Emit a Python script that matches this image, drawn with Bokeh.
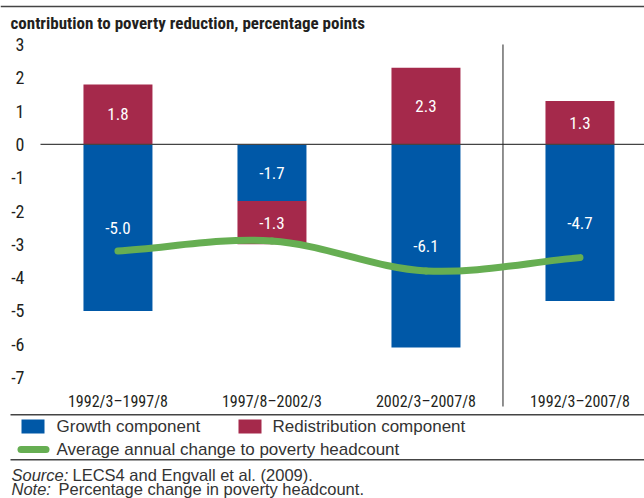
import numpy as np
from bokeh.plotting import figure
from bokeh.models import Range1d, Label
from bokeh.embed import file_html
from bokeh.resources import INLINE
from bokeh.core.properties import value

# ---------------- data ----------------
periods = ["1992/3–1997/8", "1997/8–2002/3", "2002/3–2007/8", "1992/3–2007/8"]
growth = [-5.0, -1.7, -6.1, -4.7]
redistribution = [1.8, -1.3, 2.3, 1.3]
avg_change = [-3.2, -2.9, -3.8, -3.4]
y_ticks = [3, 2, 1, 0, -1, -2, -3, -4, -5, -6, -7]

title_text = "contribution to poverty reduction, percentage points"
legend_labels = ["Growth component", "Redistribution component",
                 "Average annual change to poverty headcount"]
source_label, source_text = "Source:", "LECS4 and Engvall et al. (2009)."
note_label, note_text = "Note:", "Percentage change in poverty headcount."

# ---------------- style / layout ----------------
BLUE = "#0058a7"
RED = "#a5294b"
GREEN = "#66ae52"
TEXT = "#231f20"
GREY_TEXT = "#333333"
RULE = "#444444"
NARROW = "'Liberation Sans Narrow', 'Roboto Condensed', 'DejaVu Sans Condensed', 'Arial Narrow', sans-serif"
SANS = "'Liberation Sans', Arial, sans-serif"

W, H = 644, 498
# chart area (page pixels) and its value window
CH_L, CH_T, CH_B = 40, 30, 410
CX0, CX1 = -0.503, 3.419
CY0, CY1 = -7.99, 3.42
sx = (W - CH_L) / (CX1 - CX0)
sy = (CH_B - CH_T) / (CY1 - CY0)


def px_x(px):   # page pixel -> data x
    return CX0 + (px - CH_L) / sx


def px_y(py):   # page pixel -> data y
    return CY1 - (py - CH_T) / sy


p = figure(width=W, height=H, output_backend="svg", toolbar_location=None,
           x_range=Range1d(px_x(0), px_x(W)), y_range=Range1d(px_y(H), px_y(0)),
           min_border=0, x_axis_location=None, y_axis_location=None)
p.outline_line_color = None
p.xgrid.grid_line_color = None
p.ygrid.grid_line_color = None

# ---------------- bars ----------------
n = len(periods)
xs = np.arange(n, dtype=float)
bar_w = 0.448
g = np.array(growth)
r = np.array(redistribution)
r_bottom = np.where(r >= 0, 0.0, g)
r_top = r_bottom + r

p.vbar(x=xs, bottom=g, top=0, width=bar_w, fill_color=BLUE, line_color=None)
p.vbar(x=xs, bottom=r_bottom, top=r_top, width=bar_w, fill_color=RED, line_color=None)

# zero line and separator before the whole-period bar
p.segment(x0=[px_x(CH_L)], y0=[0], x1=[px_x(W)], y1=[0], line_color=RULE, line_width=1.3)
p.segment(x0=[n - 1.5], y0=[3.0], x1=[n - 1.5], y1=[px_y(406)], line_color="#222222", line_width=1)

# value labels
p.text(x=xs, y=g / 2, text=[f"{v:.1f}" for v in growth], text_color="white",
       text_align="center", text_baseline="middle", text_font=value(NARROW),
       text_font_size="17px")
p.text(x=xs, y=(r_bottom + r_top) / 2, text=[f"{v:.1f}" for v in redistribution],
       text_color="white", text_align="center", text_baseline="middle",
       text_font=value(NARROW), text_font_size="17px")

# smooth average line (Catmull-Rom -> cubic Bezier)
ys = np.array(avg_change)
dx = np.gradient(xs)
dy = np.gradient(ys)
p.bezier(x0=xs[:-1], y0=ys[:-1], x1=xs[1:], y1=ys[1:],
         cx0=xs[:-1] + dx[:-1] / 3, cy0=ys[:-1] + dy[:-1] / 3,
         cx1=xs[1:] - dx[1:] / 3, cy1=ys[1:] - dy[1:] / 3,
         line_color=GREEN, line_width=7, line_cap="round")

# ---------------- tick labels ----------------
p.text(x=[px_x(24)] * len(y_ticks), y=y_ticks, text=[str(t) for t in y_ticks],
       text_align="right", text_baseline="middle", text_font=value(NARROW),
       text_font_size="18px", text_color=TEXT)
p.text(x=xs, y=[px_y(401)] * n, text=periods, text_align="center", text_baseline="middle",
       text_font=value(NARROW), text_font_size="16px", text_color=TEXT)


# ---------------- header / legend / notes ----------------
def rule(x_a, x_b, py):
    p.line(x=[px_x(x_a), px_x(x_b)], y=[px_y(py)] * 2, line_color=RULE, line_width=1.5)


def label(px, py, t, font=SANS, size="17px", style="normal", color=GREY_TEXT):
    p.add_layout(Label(x=px_x(px), y=px_y(py), text=t, text_font=font, text_font_size=size,
                       text_font_style=style, text_baseline="middle", text_color=color))


rule(0, W, 6)
label(10, 22, title_text, font=NARROW, size="17px", style="bold", color=TEXT)

rule(10, W, 414.3)
p.rect(x=[px_x(32.5), px_x(249.5)], y=[px_y(426)] * 2, width=23, height=14,
       width_units="screen", height_units="screen", fill_color=[BLUE, RED], line_color=None)
p.line(x=[px_x(20.5), px_x(45.5)], y=[px_y(449)] * 2, line_color=GREEN, line_width=7,
       line_cap="round")
for (lx, ly), t in zip([(56, 426), (272, 426), (56, 449)], legend_labels):
    label(lx, ly, t)
rule(10, W, 459.3)

label(11, 474, source_label, size="16.5px", style="italic")
label(72, 474, source_text, size="16.5px")
label(11, 488.5, note_label, size="16.5px", style="italic")
label(58, 488.5, note_text, size="16.5px")

open("out.html", "w").write(file_html(p, INLINE))
